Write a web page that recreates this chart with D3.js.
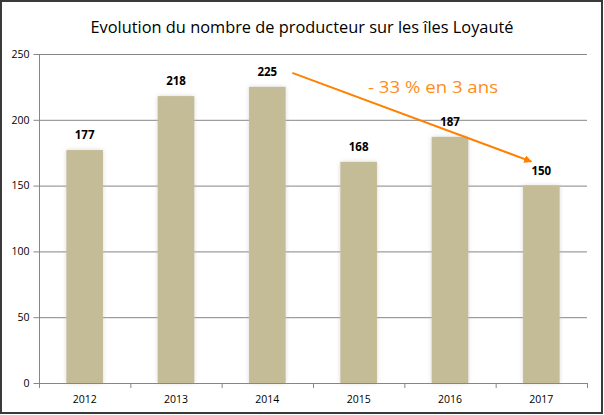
<!DOCTYPE html>
<html><head><meta charset="utf-8">
<script src="https://cdn.jsdelivr.net/npm/d3@7/dist/d3.min.js"></script>
<style>body{margin:0;background:#fff}svg{display:block}</style>
</head><body>
<svg id="c" width="604" height="415"></svg>
<script>
const categories = ["2012","2013","2014","2015","2016","2017"];
const values = [177,218,225,168,187,150];
const yTicks = [0,50,100,150,200,250];
const title = "Evolution du nombre de producteur sur les îles Loyauté";
const annotation = "- 33 % en 3 ans";

const svg = d3.select("#c");
const m = {l:39, r:587, t:54, b:383};

const defs = svg.append("defs");
const f = defs.append("filter").attr("id","glow").attr("x","-30%").attr("y","-10%").attr("width","160%").attr("height","120%");
f.append("feGaussianBlur").attr("in","SourceAlpha").attr("stdDeviation",2.2).attr("result","b");
f.append("feFlood").attr("flood-color","#bbbbbb").attr("flood-opacity",0.6);
f.append("feComposite").attr("in2","b").attr("operator","in").attr("result","s");
const mg = f.append("feMerge");
mg.append("feMergeNode").attr("in","s");
mg.append("feMergeNode").attr("in","SourceGraphic");

const mk = defs.append("marker").attr("id","arr").attr("viewBox","0 0 10 10").attr("refX",9).attr("refY",5)
  .attr("markerWidth",4).attr("markerHeight",4).attr("orient","auto");
mk.append("path").attr("d","M0,0L10,5L0,10z").attr("fill","#FF8000");

// frame
svg.append("rect").attr("x",1).attr("y",1).attr("width",601).attr("height",412)
  .attr("fill","#fff").attr("stroke","#3a3a3a").attr("stroke-width",2);

const x = d3.scaleBand().domain(categories).range([m.l,m.r]).paddingInner(0.6).paddingOuter(0.3);
const xb = d3.scaleBand().domain(categories).range([m.l,m.r]);
const y = d3.scaleLinear().domain([0,250]).range([m.b,m.t]);

// gridlines
svg.append("g").selectAll("line").data(yTicks.filter(d=>d>0)).join("line")
  .attr("x1",m.l).attr("x2",m.r).attr("y1",d=>y(d)+0.5).attr("y2",d=>y(d)+0.5)
  .attr("stroke","#868686").attr("stroke-width",1);

// y axis
const ya = svg.append("g").attr("transform",`translate(${m.l+0.5},0)`)
  .call(d3.axisLeft(y).tickValues(yTicks).tickSize(6).tickPadding(4));
ya.select(".domain").attr("stroke","#868686").attr("d",`M-0,${m.t}V${m.b}`);
ya.selectAll(".tick line").attr("stroke","#868686");
ya.selectAll("text").attr("font-family","Open Sans, sans-serif").attr("font-size",10.5).attr("fill","#000");

// bars
svg.append("g").selectAll("rect").data(values).join("rect")
  .attr("x",(d,i)=>x(categories[i])).attr("width",x.bandwidth())
  .attr("y",d=>y(d)).attr("height",d=>y(0)-y(d))
  .attr("fill","#C4BC96").attr("filter","url(#glow)");

// x axis
const xa = svg.append("g").attr("transform",`translate(0,${m.b+0.5})`)
  .call(d3.axisBottom(xb).tickSize(0).tickPadding(12));
xa.select(".domain").attr("stroke","#868686").attr("d",`M${m.l},0H${m.r}`);
xa.selectAll("text").attr("font-family","Open Sans, sans-serif").attr("font-size",10.5).attr("fill","#000");
svg.append("g").selectAll("line").data(d3.range(categories.length+1)).join("line")
  .attr("x1",i=>m.l+i*xb.step()+0.5).attr("x2",i=>m.l+i*xb.step()+0.5)
  .attr("y1",m.b).attr("y2",m.b+5).attr("stroke","#868686");

// value labels
svg.append("g").selectAll("text").data(values).join("text")
  .attr("x",(d,i)=>x(categories[i])+x.bandwidth()/2).attr("y",d=>y(d)-11)
  .attr("text-anchor","middle").attr("font-family","Open Sans, sans-serif")
  .attr("font-weight","bold").attr("font-size",11.5).attr("fill","#000").text(d=>d);

// title
svg.append("text").attr("x",302).attr("y",33).attr("text-anchor","middle")
  .attr("font-family","Open Sans, sans-serif").attr("font-size",17).attr("fill","#000")
  .attr("textLength",423).attr("lengthAdjust","spacingAndGlyphs").text(title);

// annotation arrow from 2014 label to 2017 label
const i0 = 2, i1 = 5;
const ax1 = x(categories[i0])+x.bandwidth()/2+25, ay1 = y(values[i0])-14;
const ax2 = x(categories[i1])+x.bandwidth()/2-10, ay2 = y(values[i1])-24;
svg.append("line").attr("x1",ax1).attr("y1",ay1).attr("x2",ax2).attr("y2",ay2)
  .attr("stroke","#FF8000").attr("stroke-width",2).attr("marker-end","url(#arr)");

svg.append("text").attr("x",433).attr("y",93).attr("text-anchor","middle")
  .attr("font-family","Open Sans, sans-serif").attr("font-size",16.5).attr("fill","#FF8C1A")
  .attr("textLength",130).attr("lengthAdjust","spacingAndGlyphs").text(annotation);
</script>
</body></html>
